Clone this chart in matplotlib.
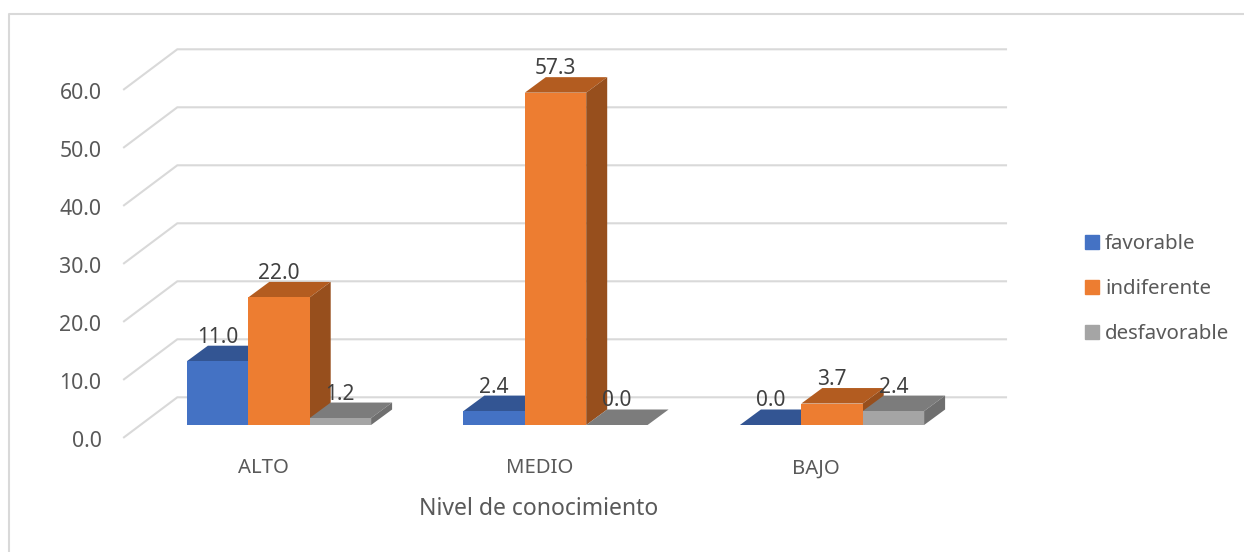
import matplotlib
import matplotlib.pyplot as plt
import numpy as np
from matplotlib.lines import Line2D
from matplotlib.patches import Patch

matplotlib.use('Agg')

categories = ['ALTO', 'MEDIO', 'BAJO']
series_names = ['favorable', 'indiferente', 'desfavorable']
favorable = [11.0, 2.4, 0.0]
indiferente = [22.0, 57.3, 3.7]
desfavorable = [1.2, 0.0, 2.4]
y_ticks = [0, 10, 20, 30, 40, 50, 60]

front_colors = ['#4472c4', '#ed7d31', '#a5a5a5']
top_colors = ['#335593', '#b35c20', '#7c7c7c']
side_colors = ['#2a4677', '#974f1d', '#6f6f6f']

plt.rcParams['font.family'] = ['Noto Sans', 'DejaVu Sans']

W, H = 1244, 552
# pixel scale of the chart
px_x = 276.5  # one category
px_y = 5.8    # one percent unit
left, right, top, bottom = 107, 1244, 13, 450
zero_y = 425
center0 = 279

fig = plt.figure(figsize=(W / 100, H / 100), dpi=100)
ax = fig.add_axes([left / W, 1 - bottom / H, (right - left) / W, (bottom - top) / H])
ax.set_xlim((left - center0) / px_x, (right - center0) / px_x)
ax.set_ylim((zero_y - bottom) / px_y, (zero_y - top) / px_y)
for s in ax.spines.values():
    s.set_visible(False)
ax.patch.set_alpha(0)

width = 61.4 / px_x
depth_x = 21 / px_x
depth_y = 15.5 / px_y

# back wall and side wall gridlines
back_x0 = (177.3 - center0) / px_x
back_x1 = (1006 - center0) / px_x
wall_x = (124 - center0) / px_x
back_y = 27.7 / px_y
wall_y = -12.3 / px_y
for t in y_ticks:
    ax.plot([wall_x, back_x0, back_x1], [t + wall_y, t + back_y, t + back_y],
            color='#d9d9d9', lw=1.5, zorder=1, clip_on=False, solid_joinstyle='miter')

x = np.arange(len(categories))
all_values = [favorable, indiferente, desfavorable]
for i in x:
    for j, values in enumerate(all_values):
        v = values[i]
        x0 = i + (j - 1.5) * width
        x1 = x0 + width
        z = 3 + i * 3 + j
        ax.fill([x0, x1, x1 + depth_x, x0 + depth_x],
                [v, v, v + depth_y, v + depth_y], color=top_colors[j], lw=0, zorder=z)
        ax.fill([x1, x1 + depth_x, x1 + depth_x, x1],
                [0, depth_y, v + depth_y, v], color=side_colors[j], lw=0, zorder=z)
        ax.bar(x0, v, width, align='edge', color=front_colors[j], lw=0, zorder=z)
        ax.text(x0 + width / 2, v + depth_y + 8.5 / px_y, f'{v:.1f}', ha='center', va='center',
                fontsize=15, color='#404040', zorder=30)

# value axis labels sit on the front edge of the side wall
ax.set_yticks([t - 14 / px_y for t in y_ticks], [f'{t:.1f}' for t in y_ticks])
ax.set_xticks(x - 16 / px_x, categories)
ax.tick_params(axis='y', length=0, pad=4, labelsize=15.3, labelcolor='#595959')
ax.tick_params(axis='x', length=0, pad=6, labelsize=14.6, labelcolor='#595959')
ax.set_xlabel('Nivel de conocimiento', fontsize=16.5, color='#595959', labelpad=12)
ax.xaxis.set_label_coords((539 - left) / (right - left), -(509 - bottom) / (bottom - top))
ax.xaxis.label.set_verticalalignment('center')

handles = [Patch(color=c, label=n) for c, n in zip(front_colors, series_names)]
ax.legend(handles=handles, loc='center left', frameon=False, fontsize=14.7,
          labelcolor='#595959', handlelength=0.68, handleheight=0.68, handletextpad=0.3,
          labelspacing=1.22, borderpad=0, borderaxespad=0,
          bbox_to_anchor=((1085 - left) / (right - left), (bottom - 289) / (bottom - top)))

# chart frame, only left and top edges are in the crop
fig.add_artist(Line2D([9 / W, 9 / W, 1], [0, 1 - 14 / H, 1 - 14 / H], color='#d9d9d9', lw=1.5))

fig.savefig('out.png', dpi=100)
